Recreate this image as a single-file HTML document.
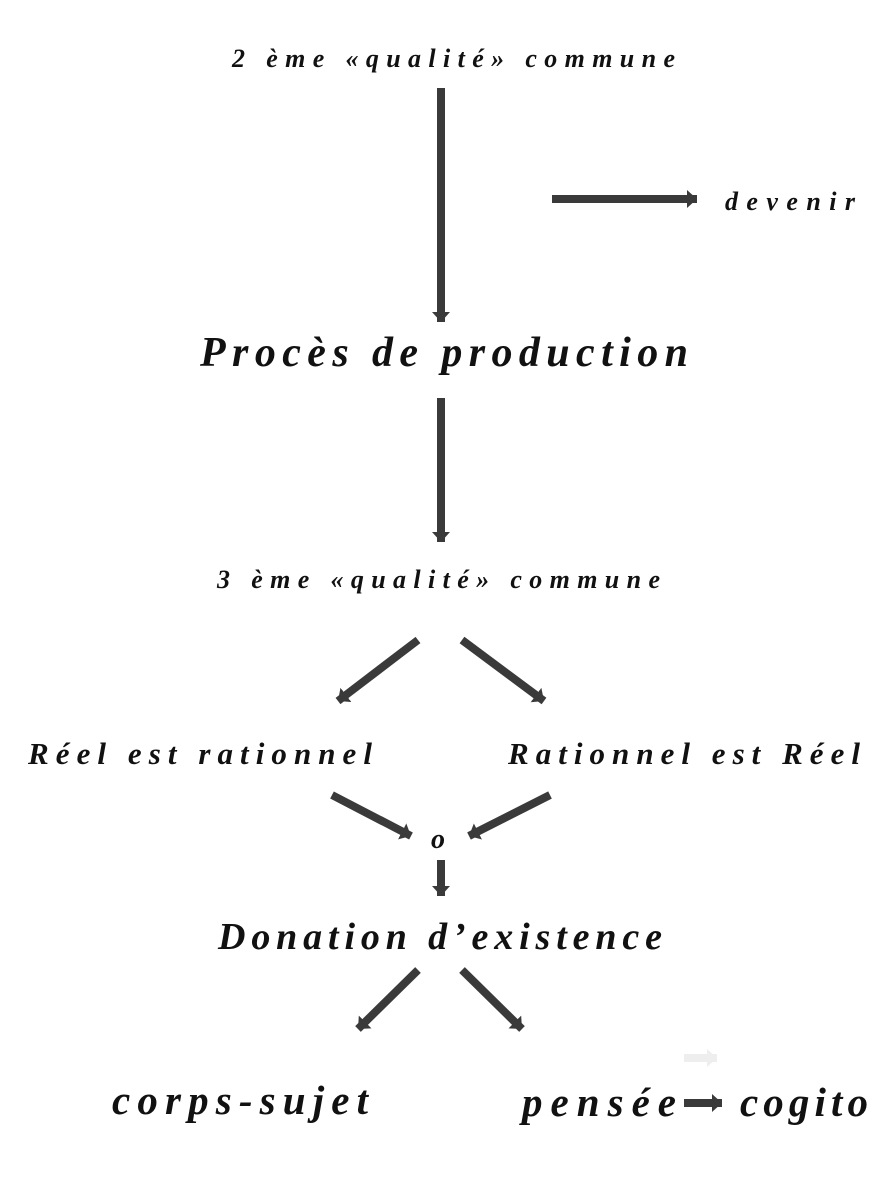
<!DOCTYPE html>
<html><head><meta charset="utf-8"><style>
html,body{margin:0;padding:0;background:#fff;}
svg{display:block;}
text{font-family:"Liberation Serif",serif;font-weight:bold;font-style:italic;fill:#111;}
</style></head><body>
<svg width="882" height="1200" viewBox="0 0 882 1200" xmlns="http://www.w3.org/2000/svg">
<defs>
<marker id="a" markerUnits="userSpaceOnUse" markerWidth="20" markerHeight="20" refX="10" refY="9" orient="auto">
<path d="M0,0 L10,9 L0,18 Z" fill="#3a3a3a"/>
</marker>
<marker id="f" markerUnits="userSpaceOnUse" markerWidth="20" markerHeight="20" refX="10" refY="9" orient="auto">
<path d="M0,0 L10,9 L0,18 Z" fill="#eee"/>
</marker>
</defs>
<g stroke="#3a3a3a" stroke-width="8" marker-end="url(#a)">
<line x1="441" y1="88" x2="441" y2="322"/>
<line x1="552" y1="199" x2="697" y2="199"/>
<line x1="441" y1="398" x2="441" y2="542"/>
<line x1="418" y1="640" x2="338" y2="701"/>
<line x1="462" y1="640" x2="544" y2="701"/>
<line x1="332" y1="795" x2="411" y2="836"/>
<line x1="550" y1="795" x2="469" y2="836"/>
<line x1="441" y1="860" x2="441" y2="896"/>
<line x1="418" y1="970" x2="358" y2="1029"/>
<line x1="462" y1="970" x2="522" y2="1029"/>
<line x1="684" y1="1103" x2="722" y2="1103"/>
</g>
<line x1="684" y1="1058" x2="717" y2="1058" stroke="#eee" stroke-width="8" marker-end="url(#f)"/>
<text x="232" y="67" font-size="26" textLength="443" lengthAdjust="spacing">2 ème «qualité» commune</text>
<text x="725" y="210" font-size="26" textLength="130" lengthAdjust="spacing">devenir</text>
<text x="200" y="366" font-size="42" textLength="488" lengthAdjust="spacing">Procès de production</text>
<text x="217" y="588" font-size="26" textLength="443" lengthAdjust="spacing">3 ème «qualité» commune</text>
<text x="28" y="764" font-size="31" textLength="344" lengthAdjust="spacing">Réel est rationnel</text>
<text x="508" y="764" font-size="31" textLength="352" lengthAdjust="spacing">Rationnel est Réel</text>
<text x="431" y="848" font-size="28">o</text>
<text x="218" y="949" font-size="38" textLength="444" lengthAdjust="spacing">Donation d’existence</text>
<text x="112" y="1114" font-size="41" textLength="256" lengthAdjust="spacing">corps-sujet</text>
<text x="522" y="1116" font-size="41" textLength="154" lengthAdjust="spacing">pensée</text>
<text x="740" y="1116" font-size="41" textLength="128" lengthAdjust="spacing">cogito</text>
</svg>
</body></html>
